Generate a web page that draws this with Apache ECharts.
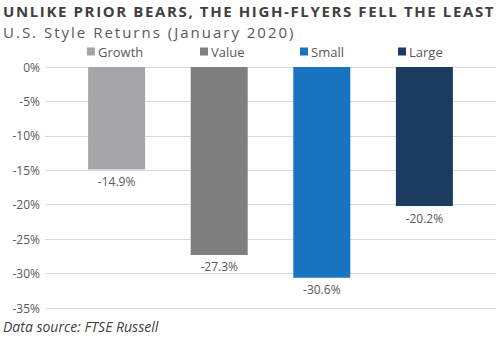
<!DOCTYPE html>
<html><head><meta charset="utf-8">
<script src="https://cdn.jsdelivr.net/npm/echarts@6/dist/echarts.min.js"></script>
<style>html,body{margin:0;padding:0;background:#fff}#c{width:500px;height:341px}</style>
</head><body><div id="c"></div>
<script>
const seriesNames = ['Growth', 'Value', 'Small', 'Large'];
const seriesValues = [-14.9, -27.3, -30.6, -20.2];
const seriesColors = ['#A5A5A8', '#7F7F80', '#1874BE', '#1B3C5F'];
const category = ['January 2020'];
const yMin = -35, yMax = 0, yStep = 5;
const titleText = 'UNLIKE PRIOR BEARS, THE HIGH-FLYERS FELL THE LEAST';
const subtitleText = 'U.S. Style Returns (January 2020)';
const sourceText = 'Data source: FTSE Russell';

const chart = echarts.init(document.getElementById('c'), null, { renderer: 'svg' });
const legendLefts = [87, 200, 300, 398];
const font = '"Open Sans", sans-serif';
chart.setOption({
  animation: false,
  title: [
    { text: titleText, left: 3, top: 2, padding: 0,
      textStyle: { fontFamily: font, fontSize: 15, fontWeight: 'bold', color: '#404040', lineHeight: 18 } },
    { text: subtitleText, left: 3, top: 23, padding: 0,
      textStyle: { fontFamily: font, fontSize: 15, fontWeight: 'normal', color: '#595959', lineHeight: 18 } },
    { text: sourceText, left: 3, top: 319, padding: 0,
      textStyle: { fontFamily: font, fontSize: 14, fontWeight: 'normal', fontStyle: 'italic', color: '#404040' } }
  ],
  legend: seriesNames.map((n, i) => ({
    data: [n], left: legendLefts[i], top: 45, padding: 0, itemWidth: 8, itemHeight: 8, itemGap: 4,
    icon: 'rect', textStyle: { fontFamily: font, fontSize: 13, color: '#595959', padding: [0, 0, 0, -2] }
  })),
  grid: { left: 45, right: 4, top: 67, bottom: 33 },
  xAxis: { type: 'category', data: category, axisLine: { show: false }, axisTick: { show: false }, axisLabel: { show: false } },
  yAxis: {
    type: 'value', min: yMin, max: yMax, interval: yStep,
    axisLine: { show: false }, axisTick: { show: false },
    axisLabel: { formatter: '{value}%', fontFamily: font, fontSize: 12, color: '#595959', margin: 5 },
    splitLine: { lineStyle: { color: '#d9d9d9', width: 1 } }
  },
  series: seriesNames.map((n, i) => ({
    name: n, type: 'bar', data: [seriesValues[i]], barWidth: 57, barGap: '80%',
    itemStyle: { color: seriesColors[i] },
    label: { show: true, position: 'bottom', distance: 6, formatter: p => p.value.toFixed(1) + '%',
      fontFamily: font, fontSize: 12, color: '#595959' }
  }))
});
function spaceText() {
  document.querySelectorAll('#c svg text').forEach(t => {
    if (t.textContent === titleText) t.setAttribute('letter-spacing', '1.62');
    if (t.textContent === subtitleText) t.setAttribute('letter-spacing', '2');
  });
}
spaceText();
chart.on('finished', spaceText);
</script></body></html>
